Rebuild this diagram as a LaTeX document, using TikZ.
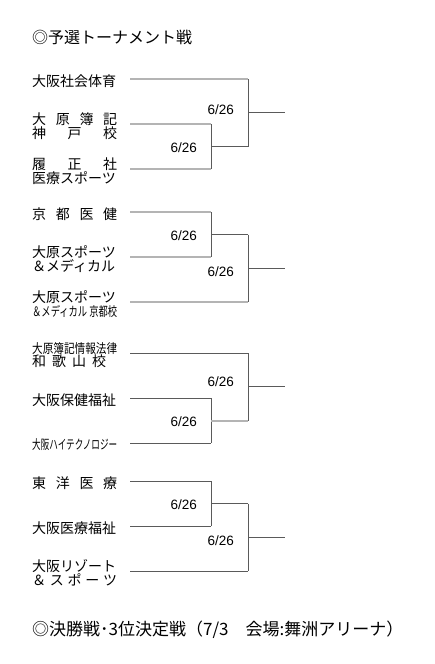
\documentclass[tikz,border=0pt]{standalone}
\usepackage{fontspec}
\usepackage{graphicx}
\setmainfont{Noto Sans CJK JP}
\newfontfamily\datefont{Liberation Sans}
\definecolor{linelite}{HTML}{B4B4B4}
\definecolor{linedark}{HTML}{5A5A5A}
% evenly spread characters / squeezed small names
\newcommand\spread[2][85pt]{\makebox[#1][s]{#2}}
\newcommand\squeeze[1]{\resizebox{85pt}{\height}{#1}}

\begin{document}
\begin{tikzpicture}[x=1pt, y=-1pt,
  team/.style={anchor=west, inner sep=0pt, align=left,
               font=\fontsize{14}{13.5}\selectfont},
  date/.style={anchor=east, inner sep=0pt, font=\datefont\fontsize{13.5}{14}\selectfont},
  head/.style={anchor=west, inner sep=0pt, font=\fontsize{16}{18}\selectfont},
  lite/.style={draw=linelite, line width=2pt},
  dark/.style={draw=linedark, line width=1pt}]
\useasboundingbox (0,0) rectangle (434,664);
\node[head] (title) at (32,37) {◎予選トーナメント戦};
% block 1
\node[team] (t1) at (32,81) {大阪社会体育};
\node[team] (t2) at (32,126) {\spread{大\hfil 原\hfil 簿\hfil 記}\\\spread{神\hfil 戸\hfil 校}};
\node[team] (t3) at (32,171) {\spread{履\hfil 正\hfil 社}\\医療スポーツ};
\coordinate (s1) at (130,79); \coordinate (s2) at (130,124); \coordinate (s3) at (130,169);
\coordinate (a1) at (211,146.5); \coordinate (b1) at (248,112.75); \coordinate (o1) at (285,112.75);
\draw[lite] (s2) -- (s2 -| a1); \draw[lite] (s3) -- (s3 -| a1);
\draw[dark] (s2 -| a1) -- (s3 -| a1); \draw[dark] (a1) -- (a1 -| b1);
\draw[lite] (s1) -- (s1 -| b1); \draw[dark] (s1 -| b1) -- (a1 -| b1);
\draw[dark] (b1) -- (o1);
\node[date] (d1) at (197,147.5) {6/26};
\node[date] (e1) at (234,109.5) {6/26};
% block 2
\node[team] (t4) at (32,214) {\spread{京\hfil 都\hfil 医\hfil 健}};
\node[team] (t5) at (32,259) {大原スポーツ\\＆メディカル};
\node[team] (t6) at (32,304) {大原スポーツ\\\squeeze{\fontsize{13}{13}\selectfont ＆メディカル 京都校}};
\coordinate (s4) at (130,212); \coordinate (s5) at (130,257); \coordinate (s6) at (130,302);
\coordinate (a2) at (211,234.5); \coordinate (b2) at (248,268.25); \coordinate (o2) at (285,268.25);
\draw[lite] (s4) -- (s4 -| a2); \draw[lite] (s5) -- (s5 -| a2);
\draw[dark] (s4 -| a2) -- (s5 -| a2); \draw[dark] (a2) -- (a2 -| b2);
\draw[lite] (s6) -- (s6 -| b2); \draw[dark] (a2 -| b2) -- (s6 -| b2);
\draw[dark] (b2) -- (o2);
\node[date] (d2) at (197,235.5) {6/26};
\node[date] (e2) at (234,272) {6/26};
% block 3
\node[team] (t7) at (32,355) {\squeeze{\fontsize{13}{13}\selectfont 大原簿記情報法律}\\\spread[74pt]{和\hfil 歌\hfil 山\hfil 校}};
\node[team] (t8) at (32,400) {大阪保健福祉};
\node[team] (t9) at (32,445) {\squeeze{\fontsize{13}{13}\selectfont 大阪ハイテクノロジー}};
\coordinate (s7) at (130,353); \coordinate (s8) at (130,398); \coordinate (s9) at (130,443);
\coordinate (a3) at (211,420.5); \coordinate (b3) at (248,386.75); \coordinate (o3) at (285,386.75);
\draw[dark] (s8) -- (s8 -| a3); \draw[dark] (s9) -- (s9 -| a3);
\draw[dark] (s8 -| a3) -- (s9 -| a3); \draw[lite] (a3) -- (a3 -| b3);
\draw[dark] (s7) -- (s7 -| b3); \draw[dark] (s7 -| b3) -- (a3 -| b3);
\draw[dark] (b3) -- (o3);
\node[date] (d3) at (197,421.5) {6/26};
\node[date] (e3) at (234,382) {6/26};
% block 4
\node[team] (t10) at (32,483) {\spread{東\hfil 洋\hfil 医\hfil 療}};
\node[team] (t11) at (32,528) {大阪医療福祉};
\node[team] (t12) at (32,573) {大阪リゾート\\\spread{＆\hfil ス\hfil ポ\hfil ー\hfil ツ}};
\coordinate (s10) at (130,481); \coordinate (s11) at (130,526); \coordinate (s12) at (130,571);
\coordinate (a4) at (211,503.5); \coordinate (b4) at (248,537.25); \coordinate (o4) at (285,537.25);
\draw[dark] (s10) -- (s10 -| a4); \draw[dark] (s11) -- (s11 -| a4);
\draw[dark] (s10 -| a4) -- (s11 -| a4); \draw[dark] (a4) -- (a4 -| b4);
\draw[dark] (s12) -- (s12 -| b4); \draw[dark] (a4 -| b4) -- (s12 -| b4);
\draw[dark] (b4) -- (o4);
\node[date] (d4) at (197,504.5) {6/26};
\node[date] (e4) at (234,541) {6/26};
\node[head, font=\fontsize{17}{19}\selectfont] (final) at (32,630) {◎決勝戦･3位決定戦（7/3　会場:舞洲アリーナ）};
\end{tikzpicture}
\end{document}
